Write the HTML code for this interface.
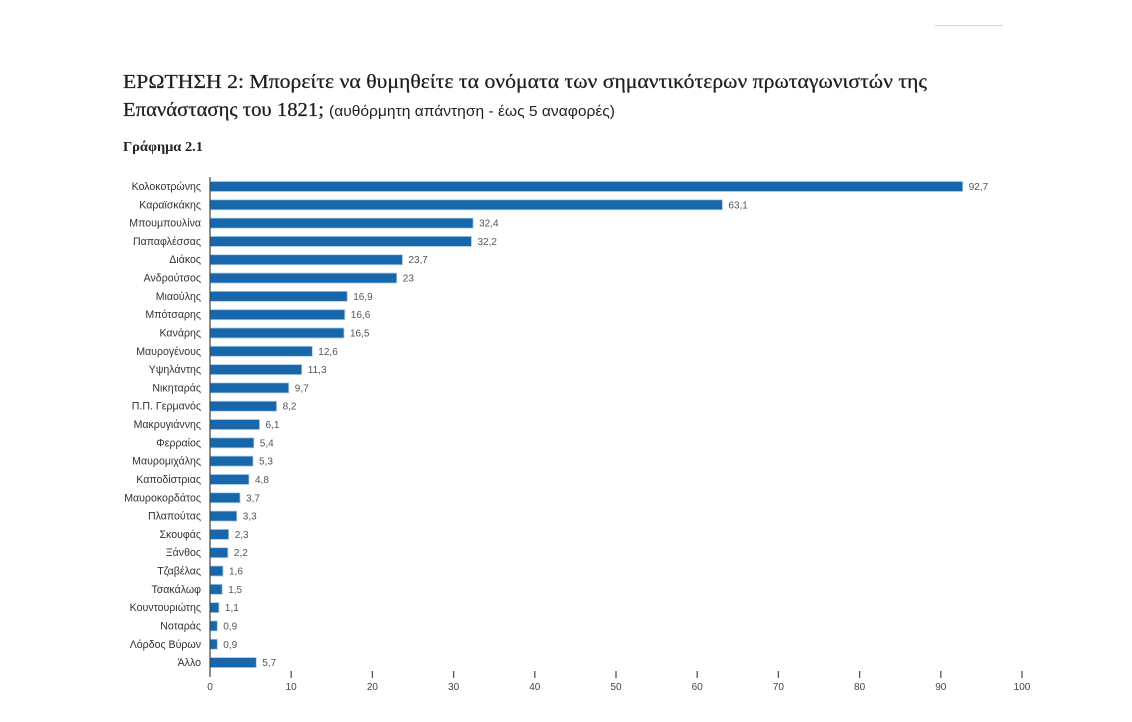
<!DOCTYPE html>
<html><head><meta charset="utf-8">
<style>
html,body{margin:0;padding:0;background:#fff;}
svg{display:block;}
</style></head>
<body>
<svg width="1132" height="722" viewBox="0 0 1132 722" xmlns="http://www.w3.org/2000/svg">
<rect width="1132" height="722" fill="#fff"/>
<line x1="935" y1="25.5" x2="1003" y2="25.5" stroke="#d4d4d4" stroke-width="1"/>
<g font-family="'Liberation Serif','DejaVu Serif',serif" fill="#1e1e1e" stroke="#1e1e1e" stroke-width="0.25">
<text x="123" y="88" font-size="20" textLength="804" lengthAdjust="spacingAndGlyphs">ΕΡΩΤΗΣΗ 2: Μπορείτε να θυμηθείτε τα ονόματα των σημαντικότερων πρωταγωνιστών της</text>
<text x="123" y="116" font-size="20" textLength="201" lengthAdjust="spacingAndGlyphs">Επανάστασης του 1821;</text>
</g>
<g font-family="'Liberation Serif','DejaVu Serif',serif" fill="#222">
<text x="329" y="116" font-size="15" font-family="'Liberation Sans','DejaVu Sans',sans-serif" textLength="286" lengthAdjust="spacingAndGlyphs">(αυθόρμητη απάντηση - έως 5 αναφορές)</text>
<text x="123" y="151" font-size="14" font-weight="bold" textLength="80" lengthAdjust="spacingAndGlyphs">Γράφημα 2.1</text>
</g>
<g fill="#1767aa" stroke="#a9cdec" stroke-width="0.8">
<rect x="210" y="181.5" width="752.72" height="10"/>
<rect x="210" y="199.81" width="512.37" height="10"/>
<rect x="210" y="218.12" width="263.09" height="10"/>
<rect x="210" y="236.43" width="261.46" height="10"/>
<rect x="210" y="254.74" width="192.44" height="10"/>
<rect x="210" y="273.05" width="186.76" height="10"/>
<rect x="210" y="291.36" width="137.23" height="10"/>
<rect x="210" y="309.67" width="134.79" height="10"/>
<rect x="210" y="327.98" width="133.98" height="10"/>
<rect x="210" y="346.29" width="102.31" height="10"/>
<rect x="210" y="364.6" width="91.76" height="10"/>
<rect x="210" y="382.91" width="78.76" height="10"/>
<rect x="210" y="401.22" width="66.58" height="10"/>
<rect x="210" y="419.53" width="49.53" height="10"/>
<rect x="210" y="437.84" width="43.85" height="10"/>
<rect x="210" y="456.15" width="43.04" height="10"/>
<rect x="210" y="474.46" width="38.98" height="10"/>
<rect x="210" y="492.77" width="30.04" height="10"/>
<rect x="210" y="511.08" width="26.8" height="10"/>
<rect x="210" y="529.39" width="18.68" height="10"/>
<rect x="210" y="547.7" width="17.86" height="10"/>
<rect x="210" y="566.01" width="12.99" height="10"/>
<rect x="210" y="584.32" width="12.18" height="10"/>
<rect x="210" y="602.63" width="8.93" height="10"/>
<rect x="210" y="620.94" width="7.31" height="10"/>
<rect x="210" y="639.25" width="7.31" height="10"/>
<rect x="210" y="657.56" width="46.28" height="10"/>
</g>
<g font-family="'Liberation Sans','DejaVu Sans',sans-serif" font-size="10.6" fill="#333" text-anchor="end">
<text x="201" y="190">Κολοκοτρώνης</text>
<text x="201" y="208.31">Καραϊσκάκης</text>
<text x="201" y="226.62">Μπουμπουλίνα</text>
<text x="201" y="244.93">Παπαφλέσσας</text>
<text x="201" y="263.24">Διάκος</text>
<text x="201" y="281.55">Ανδρούτσος</text>
<text x="201" y="299.86">Μιαούλης</text>
<text x="201" y="318.17">Μπότσαρης</text>
<text x="201" y="336.48">Κανάρης</text>
<text x="201" y="354.79">Μαυρογένους</text>
<text x="201" y="373.1">Υψηλάντης</text>
<text x="201" y="391.41">Νικηταράς</text>
<text x="201" y="409.72">Π.Π. Γερμανός</text>
<text x="201" y="428.03">Μακρυγιάννης</text>
<text x="201" y="446.34">Φερραίος</text>
<text x="201" y="464.65">Μαυρομιχάλης</text>
<text x="201" y="482.96">Καποδίστριας</text>
<text x="201" y="501.27">Μαυροκορδάτος</text>
<text x="201" y="519.58">Πλαπούτας</text>
<text x="201" y="537.89">Σκουφάς</text>
<text x="201" y="556.2">Ξάνθος</text>
<text x="201" y="574.51">Τζαβέλας</text>
<text x="201" y="592.82">Τσακάλωφ</text>
<text x="201" y="611.13">Κουντουριώτης</text>
<text x="201" y="629.44">Νοταράς</text>
<text x="201" y="647.75">Λόρδος Βύρων</text>
<text x="201" y="666.06">Άλλο</text>
</g>
<g font-family="'Liberation Sans','DejaVu Sans',sans-serif" font-size="10" fill="#555">
<text x="968.7" y="190">92,7</text>
<text x="728.4" y="208.31">63,1</text>
<text x="479.1" y="226.62">32,4</text>
<text x="477.5" y="244.93">32,2</text>
<text x="408.4" y="263.24">23,7</text>
<text x="402.8" y="281.55">23</text>
<text x="353.2" y="299.86">16,9</text>
<text x="350.8" y="318.17">16,6</text>
<text x="350.0" y="336.48">16,5</text>
<text x="318.3" y="354.79">12,6</text>
<text x="307.8" y="373.1">11,3</text>
<text x="294.8" y="391.41">9,7</text>
<text x="282.6" y="409.72">8,2</text>
<text x="265.5" y="428.03">6,1</text>
<text x="259.8" y="446.34">5,4</text>
<text x="259.0" y="464.65">5,3</text>
<text x="255.0" y="482.96">4,8</text>
<text x="246.0" y="501.27">3,7</text>
<text x="242.8" y="519.58">3,3</text>
<text x="234.7" y="537.89">2,3</text>
<text x="233.9" y="556.2">2,2</text>
<text x="229.0" y="574.51">1,6</text>
<text x="228.2" y="592.82">1,5</text>
<text x="224.9" y="611.13">1,1</text>
<text x="223.3" y="629.44">0,9</text>
<text x="223.3" y="647.75">0,9</text>
<text x="262.3" y="666.06">5,7</text>
</g>
<line x1="210" y1="177" x2="210" y2="677" stroke="#444" stroke-width="1.2"/>
<g stroke="#555" stroke-width="1.3">
<line x1="291.2" y1="671" x2="291.2" y2="678"/>
<line x1="372.4" y1="671" x2="372.4" y2="678"/>
<line x1="453.6" y1="671" x2="453.6" y2="678"/>
<line x1="534.8" y1="671" x2="534.8" y2="678"/>
<line x1="616" y1="671" x2="616" y2="678"/>
<line x1="697.2" y1="671" x2="697.2" y2="678"/>
<line x1="778.4" y1="671" x2="778.4" y2="678"/>
<line x1="859.6" y1="671" x2="859.6" y2="678"/>
<line x1="940.8" y1="671" x2="940.8" y2="678"/>
<line x1="1022" y1="671" x2="1022" y2="678"/>
</g>
<g font-family="'Liberation Sans','DejaVu Sans',sans-serif" font-size="10" fill="#444" text-anchor="middle">
<text x="210" y="690">0</text>
<text x="291.2" y="690">10</text>
<text x="372.4" y="690">20</text>
<text x="453.6" y="690">30</text>
<text x="534.8" y="690">40</text>
<text x="616" y="690">50</text>
<text x="697.2" y="690">60</text>
<text x="778.4" y="690">70</text>
<text x="859.6" y="690">80</text>
<text x="940.8" y="690">90</text>
<text x="1022" y="690">100</text>
</g>
</svg>
</body></html>
